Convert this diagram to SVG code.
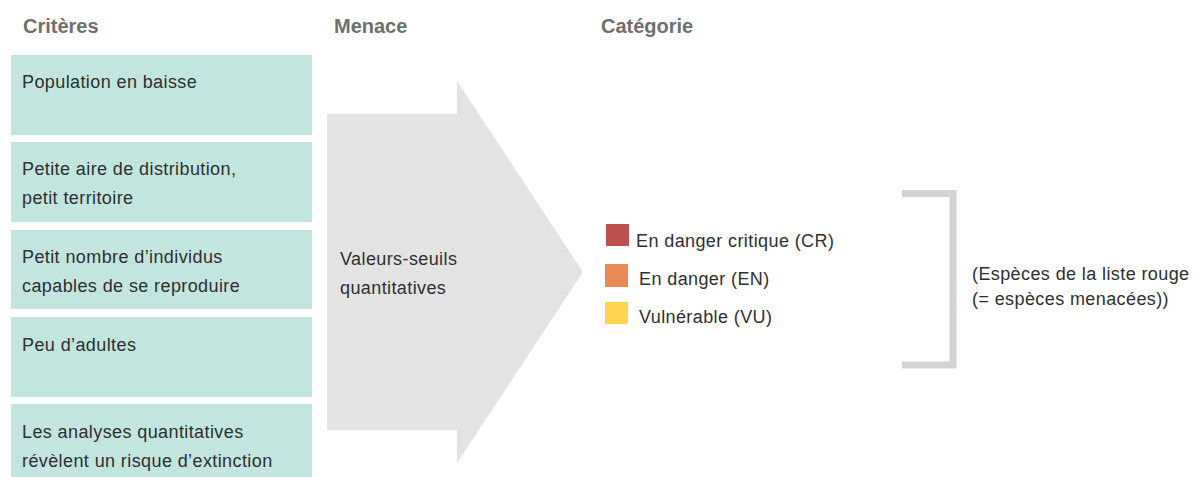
<svg xmlns="http://www.w3.org/2000/svg" width="1195" height="477" viewBox="0 0 1195 477">
<style>
.hdr{font-family:"Liberation Sans",Arial,sans-serif;font-size:20px;font-weight:bold;fill:#6f6f6f}
.t{font-family:"Liberation Sans",Arial,sans-serif;font-size:18px;letter-spacing:0.4px;fill:#2f2f2f}
.box{fill:#c3e5e0}
</style>
<rect width="1195" height="477" fill="#ffffff"/>
<g id="headers">
<text class="hdr" x="23" y="33">Critères</text>
<text class="hdr" x="334" y="33">Menace</text>
<text class="hdr" x="601" y="33">Catégorie</text>
</g>
<g id="crit1"><rect class="box" x="11" y="55" width="301" height="80"/><text class="t" x="22" y="88">Population en baisse</text></g>
<g id="crit2"><rect class="box" x="11" y="142" width="301" height="80"/><text class="t" x="22" y="175">Petite aire de distribution,</text><text class="t" x="22" y="204">petit territoire</text></g>
<g id="crit3"><rect class="box" x="11" y="230" width="301" height="79"/><text class="t" x="22" y="263">Petit nombre d’individus</text><text class="t" x="22" y="292">capables de se reproduire</text></g>
<g id="crit4"><rect class="box" x="11" y="317" width="301" height="80"/><text class="t" x="22" y="351">Peu d’adultes</text></g>
<g id="crit5"><rect class="box" x="11" y="404" width="301" height="73"/><text class="t" x="22" y="438">Les analyses quantitatives</text><text class="t" x="22" y="467">révèlent un risque d’extinction</text></g>
<g id="menace">
<polygon points="327,114 457,114 457,81 583,272 457,463 457,430 327,430" fill="#e3e3e3"/>
<text class="t" x="340" y="265">Valeurs-seuils</text>
<text class="t" x="340" y="294">quantitatives</text>
</g>
<g id="categorie">
<rect x="606" y="224" width="23" height="22" fill="#c0504d"/>
<text class="t" x="636" y="247">En danger critique (CR)</text>
<rect x="605" y="264" width="23" height="23" fill="#ec8a53"/>
<text class="t" x="639" y="285">En danger (EN)</text>
<rect x="605" y="302" width="23" height="22" fill="#ffd54f"/>
<text class="t" x="639" y="323">Vulnérable (VU)</text>
</g>
<g id="connectors">
<polyline points="902,193.5 953,193.5 953,365 902,365" fill="none" stroke="#d3d3d3" stroke-width="7"/>
</g>
<g id="liste-rouge">
<text class="t" x="972" y="280">(Espèces de la liste rouge</text>
<text class="t" x="972" y="305">(= espèces menacées))</text>
</g>
</svg>
